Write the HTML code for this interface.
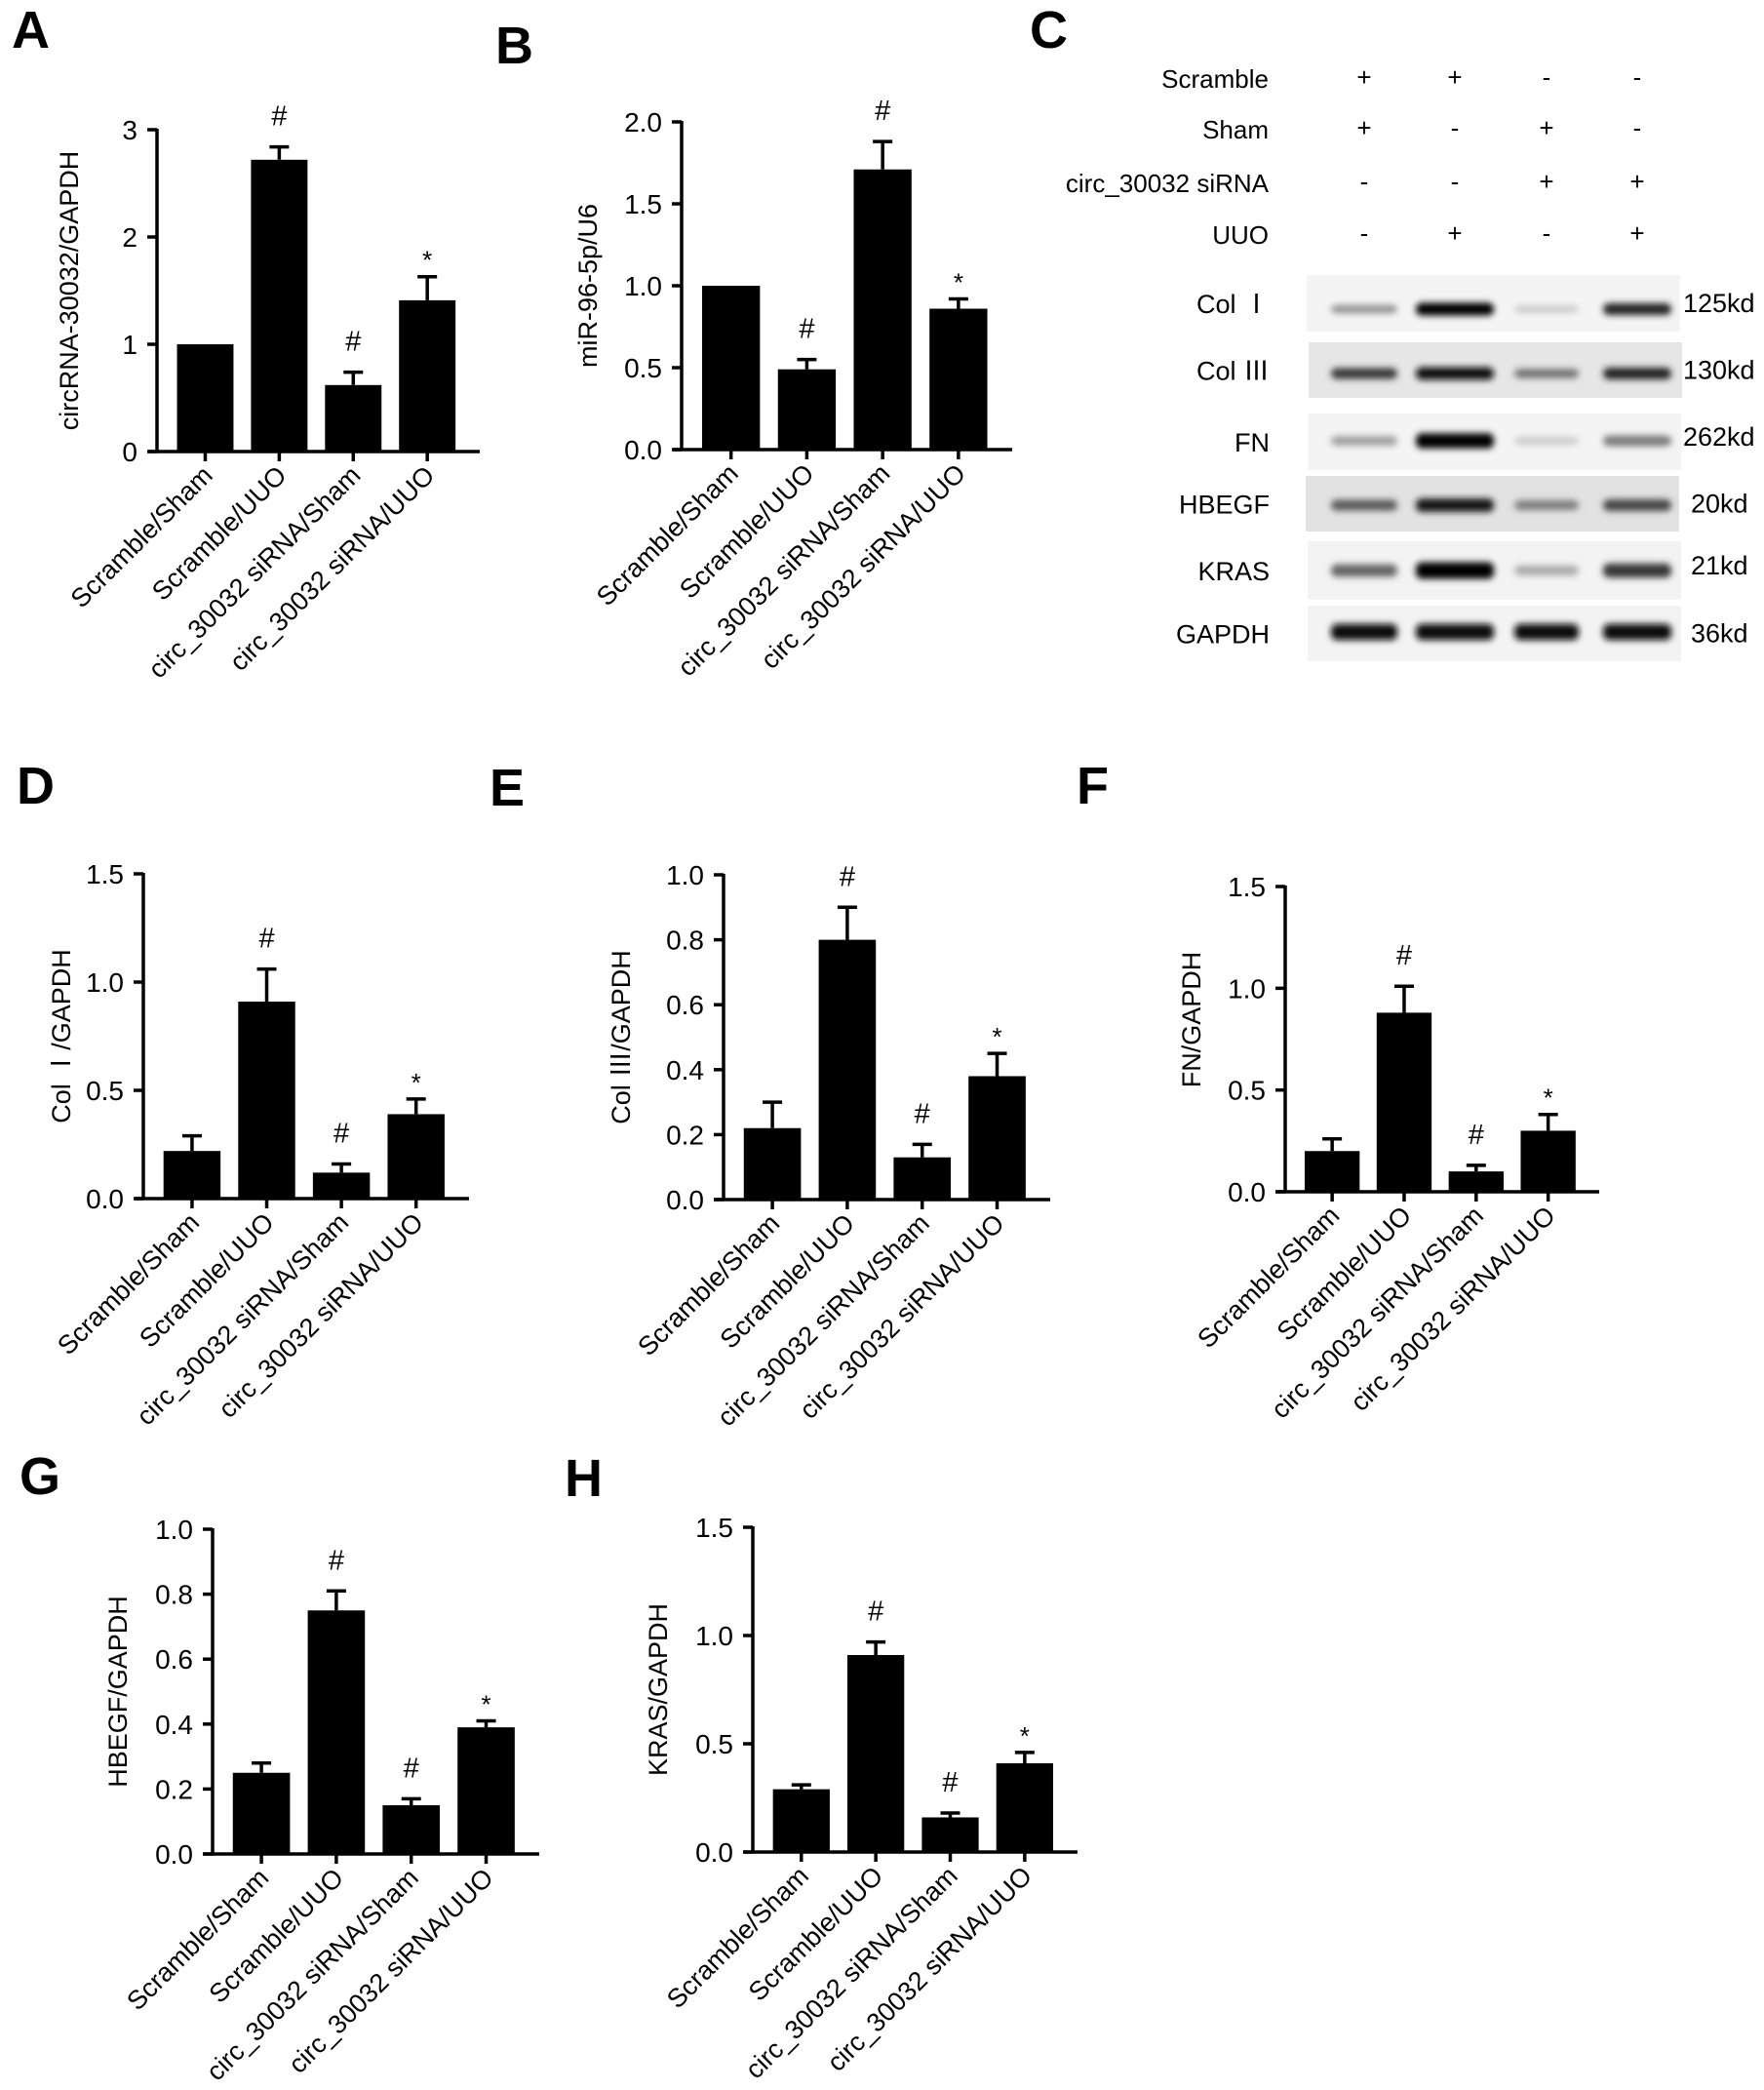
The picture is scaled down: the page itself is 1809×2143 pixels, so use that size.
<!DOCTYPE html>
<html><head><meta charset="utf-8"><title>circ_30032 figure</title>
<style>
html,body{margin:0;padding:0;background:#fff;}
svg{display:block;font-family:"Liberation Sans","Noto Sans CJK SC",sans-serif;}
</style></head>
<body>
<svg id="fig" width="1809" height="2143" viewBox="0 0 1809 2143" xmlns="http://www.w3.org/2000/svg">
<defs>
<filter id="blur" x="-20%" y="-100%" width="140%" height="300%"><feGaussianBlur stdDeviation="3.5"/></filter>
</defs>
<g id="letters" font-weight="bold" font-size="54" fill="#000">
<text x="12" y="49">A</text>
<text x="508" y="65">B</text>
<text x="1056" y="49">C</text>
<text x="17" y="824">D</text>
<text x="502" y="826">E</text>
<text x="1104" y="824">F</text>
<text x="20" y="1532">G</text>
<text x="579" y="1534">H</text>
</g>
<g id="charts"></g>
<g id="blot"></g>
</svg>
<script>
// ---- data ----
const categories = ["Scramble/Sham","Scramble/UUO","circ_30032 siRNA/Sham","circ_30032 siRNA/UUO"];
const signifMarks = ["", "#", "#", "*"];
const valuesA = [1.0, 2.72, 0.62, 1.41];
const errorsA = [0, 0.12, 0.12, 0.22];
const ticksA = [0, 1, 2, 3];
const tickLabelsA = ["0","1","2","3"];
const valuesB = [1.0, 0.49, 1.71, 0.86];
const errorsB = [0, 0.06, 0.17, 0.06];
const ticksB = [0, 0.5, 1.0, 1.5, 2.0];
const tickLabelsB = ["0.0","0.5","1.0","1.5","2.0"];
const marksB = ["", "#", "#", "*"];
const valuesD = [0.22, 0.91, 0.12, 0.39];
const errorsD = [0.07, 0.15, 0.04, 0.07];
const ticksD = [0, 0.5, 1.0, 1.5];
const tickLabelsD = ["0.0","0.5","1.0","1.5"];
const valuesE = [0.22, 0.80, 0.13, 0.38];
const errorsE = [0.08, 0.10, 0.04, 0.07];
const ticksE = [0, 0.2, 0.4, 0.6, 0.8, 1.0];
const tickLabelsE = ["0.0","0.2","0.4","0.6","0.8","1.0"];
const valuesF = [0.20, 0.88, 0.10, 0.30];
const errorsF = [0.06, 0.13, 0.03, 0.08];
const ticksF = [0, 0.5, 1.0, 1.5];
const tickLabelsF = ["0.0","0.5","1.0","1.5"];
const valuesG = [0.25, 0.75, 0.15, 0.39];
const errorsG = [0.03, 0.06, 0.02, 0.02];
const ticksG = [0, 0.2, 0.4, 0.6, 0.8, 1.0];
const tickLabelsG = ["0.0","0.2","0.4","0.6","0.8","1.0"];
const valuesH = [0.29, 0.91, 0.16, 0.41];
const errorsH = [0.02, 0.06, 0.02, 0.05];
const ticksH = [0, 0.5, 1.0, 1.5];
const tickLabelsH = ["0.0","0.5","1.0","1.5"];

// blot band intensities (0..1) per lane
const blotLabels = ["Col Ⅰ","Col Ⅲ","FN","HBEGF","KRAS","GAPDH"];
const blotSizes = ["125kd","130kd","262kd","20kd","21kd","36kd"];
const bandColI = [0.35, 1.0, 0.12, 0.85];
const bandColIII = [0.75, 0.95, 0.5, 0.85];
const bandFN = [0.3, 1.0, 0.1, 0.45];
const bandHBEGF = [0.6, 0.92, 0.45, 0.7];
const bandKRAS = [0.55, 1.0, 0.25, 0.75];
const bandGAPDH = [0.95, 0.95, 0.95, 0.95];
const condRows = ["Scramble","Sham","circ_30032 siRNA","UUO"];
const condScramble = ["+","+","-","-"];
const condSham = ["+","-","+","-"];
const condSiRNA = ["-","-","+","+"];
const condUUO = ["-","+","-","+"];

const NS = "http://www.w3.org/2000/svg";
function mk(tag, attrs, parent){
  const e = document.createElementNS(NS, tag);
  for (const k in attrs) e.setAttribute(k, attrs[k]);
  parent.appendChild(e);
  return e;
}

function drawChart(cfg, values, errors, ticks, tickLabels, marks){
  const root = document.getElementById('charts');
  const g = mk('g', {}, root);
  
  
  const span = cfg.x1 - cfg.x0;
  const ymax = ticks[ticks.length-1];
  const yScale = v => cfg.y0 - v / ymax * (cfg.y0 - cfg.yTop);
  const xBandStart = i => cfg.x0 + span * (0.062 + i * 0.2293);
  const bw = span * 0.175;
  values.forEach((v, i) => {
    const bx = xBandStart(i), by = yScale(v);
    const r = mk('rect', {x: bx, y: by, width: bw, height: cfg.y0 - by, fill: '#000'}, g);
    
    
    const e = errors[i];
    if (e > 0) {
      const cx = bx + bw/2, ty = yScale(v + e);
      const eb = mk('path', {d: `M${cx} ${by} V${ty} M${cx-10} ${ty} H${cx+10}`, stroke: '#000', 'stroke-width': 3.5, fill: 'none'}, g);
      
      
    }
    const m = marks[i];
    if (m) {
      const top = yScale(v + e);
      const t = mk('text', {x: bx + bw/2, y: m === '#' ? top - 22 : top - 8, 'text-anchor': 'middle', 'font-size': m === '#' ? 29 : 26}, g);
      t.textContent = m;
      
      
    }
    const tx = bx + bw/2;
    const xt = mk('line', {x1: tx, y1: cfg.y0, x2: tx, y2: cfg.y0 + 10, stroke: '#000', 'stroke-width': 3.5}, g);
    
    
    const lx = tx + 9, ly = cfg.y0 + 26;
    const lab = mk('text', {x: lx, y: ly, 'text-anchor': 'end', 'font-size': 27, transform: `rotate(-45 ${lx} ${ly})`}, g);
    lab.textContent = categories[i];
    
    
  });
  const ax = mk('path', {d: `M${cfg.x0} ${cfg.yTop-1} V${cfg.y0} M${cfg.x0-9} ${cfg.y0} H${cfg.x1}`, stroke: '#000', 'stroke-width': 3.5, fill: 'none'}, g);
  
  
  ticks.forEach((t, j) => {
    const y = yScale(t);
    const tl = mk('line', {x1: cfg.x0 - 10, y1: y, x2: cfg.x0, y2: y, stroke: '#000', 'stroke-width': 3.5}, g);
    
    
    const tt = mk('text', {x: cfg.x0 - 20, y: y + 10, 'text-anchor': 'end', 'font-size': 28}, g);
    tt.textContent = tickLabels[j];
    
    
  });
  const ymid = (cfg.y0 + cfg.yTop) / 2 + (cfg.titleShift || 0);
  const yt = mk('text', {x: cfg.titleX, y: ymid, 'text-anchor': 'middle', 'font-size': 27, transform: `rotate(-90 ${cfg.titleX} ${ymid})`}, g);
  yt.textContent = cfg.title;
  
  
}

drawChart({name:'chart-a', x0:161, x1:492, yTop:133, y0:463, titleX:80, title:'circRNA-30032/GAPDH'}, valuesA, errorsA, ticksA, tickLabelsA, signifMarks);
drawChart({name:'chart-b', x0:699, x1:1038, yTop:125, y0:461, titleX:612, title:'miR-96-5p/U6'}, valuesB, errorsB, ticksB, tickLabelsB, marksB);
drawChart({name:'chart-d', x0:147, x1:481, yTop:896, y0:1229, titleX:72, title:'Col Ⅰ/GAPDH'}, valuesD, errorsD, ticksD, tickLabelsD, signifMarks);
drawChart({name:'chart-e', x0:742, x1:1077, yTop:897, y0:1230, titleX:646, title:'Col Ⅲ/GAPDH'}, valuesE, errorsE, ticksE, tickLabelsE, signifMarks);
drawChart({name:'chart-f', x0:1318, x1:1640, yTop:909, y0:1222, titleX:1231, title:'FN/GAPDH', titleShift:-20}, valuesF, errorsF, ticksF, tickLabelsF, signifMarks);
drawChart({name:'chart-g', x0:218, x1:553, yTop:1568, y0:1901, titleX:130, title:'HBEGF/GAPDH'}, valuesG, errorsG, ticksG, tickLabelsG, signifMarks);
drawChart({name:'chart-h', x0:772, x1:1105, yTop:1566, y0:1899, titleX:684, title:'KRAS/GAPDH'}, valuesH, errorsH, ticksH, tickLabelsH, signifMarks);

// ---- western blot panel C ----
(function(){
  const root = document.getElementById('blot');
  const laneX = [1399, 1492, 1586, 1679];
  const laneW = [72, 84, 70, 74];
  const condVals = [condScramble, condSham, condSiRNA, condUUO];
  const condY = [90, 142, 197, 250];
  condRows.forEach((r, i) => {
    const t = mk('text', {x: 1301, y: condY[i], 'text-anchor': 'end', 'font-size': 26}, root);
    t.textContent = r;
    
    
    condVals[i].forEach((s, j) => {
      const c = mk('text', {x: laneX[j], y: condY[i] - 2, 'text-anchor': 'middle', 'font-size': 26}, root);
      c.textContent = s;
      
      
    });
  });
  const rows = [
    {y:282, h:58, x:1340, w:383, bg:'#f4f4f4', bands:bandColI, by:317, bh:10},
    {y:351, h:57, x:1342, w:383, bg:'#e6e6e6', bands:bandColIII, by:383, bh:10},
    {y:424, h:58, x:1341, w:383, bg:'#f4f4f4', bands:bandFN, by:452, bh:12},
    {y:488, h:57, x:1339, w:383, bg:'#e2e2e2', bands:bandHBEGF, by:518, bh:11},
    {y:555, h:60, x:1341, w:383, bg:'#f3f3f3', bands:bandKRAS, by:585, bh:13},
    {y:621, h:57, x:1341, w:383, bg:'#f3f3f3', bands:bandGAPDH, by:648, bh:13}
  ];
  rows.forEach((r, i) => {
    const g = mk('g', {}, root);
    
    
    mk('rect', {x: r.x, y: r.y, width: r.w, height: r.h, fill: r.bg}, g);
    r.bands.forEach((v, j) => {
      const shade = Math.round(225 - v * 225);
      const b = mk('rect', {x: laneX[j] - laneW[j]/2 + 2, y: r.by - r.bh/2 * (0.6 + v*0.7), width: laneW[j] - 4, height: r.bh * (0.6 + v*0.7), rx: 6, fill: `rgb(${shade},${shade},${shade})`, filter: 'url(#blur)'}, g);
      
      
    });
    const lab = mk('text', {x: 1302, y: r.y + r.h/2 + 10, 'text-anchor': 'end', 'font-size': 27}, g);
    lab.textContent = blotLabels[i];
    
    
    const sz = mk('text', {x: i < 3 ? 1726 : 1734, y: r.y + r.h/2 + 9 - (i===2||i===4 ? 5 : 0), 'font-size': 27}, g);
    sz.textContent = blotSizes[i];
    
    
  });
})();
</script>
</body></html>
